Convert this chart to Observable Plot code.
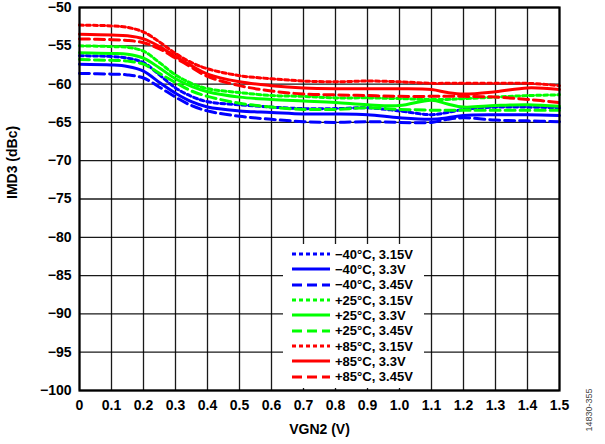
<!DOCTYPE html>
<html>
<head>
<meta charset="utf-8">
<script src="https://cdn.jsdelivr.net/npm/d3@7"></script>
<script src="https://cdn.jsdelivr.net/npm/@observablehq/plot@0.6"></script>
<style>
  html, body { margin: 0; padding: 0; background: #fff; }
  #wrap { position: relative; width: 605px; height: 444px; font-family: "Liberation Sans", Arial, sans-serif; }
  #legend { position: absolute; left: 283px; top: 244px; width: 141px; height: 144px; background: #fff; }
  .row { position: absolute; left: 0; height: 16px; display: flex; align-items: center; font-weight: bold; font-size: 13px; color: #000; white-space: nowrap; }
  .row svg { margin-left: 9px; margin-right: 5px; }
  #note { position: absolute; left: 589px; top: 410px; transform: translate(-50%, -50%) rotate(-90deg); font-size: 9px; color: #444; white-space: nowrap; }
</style>
</head>
<body>
<div id="wrap"></div>
<script>
// VGN2 (V)
const xs = [0, 0.1, 0.15, 0.2, 0.25, 0.3, 0.35, 0.4, 0.5, 0.6, 0.7, 0.8, 0.9, 1.0, 1.1, 1.15, 1.2, 1.3, 1.4, 1.5];

// IMD3 (dBc) per condition
const m40_315 = [-56.3, -56.4, -56.6, -57.2, -58.8, -60.5, -61.6, -62.3, -62.7, -63.0, -63.2, -63.2, -63.1, -63.5, -64.0, -63.7, -63.3, -63.0, -63.0, -63.1];
const m40_33  = [-57.4, -57.5, -57.7, -58.3, -59.8, -61.2, -62.3, -63.0, -63.5, -63.7, -63.9, -63.9, -64.0, -64.4, -64.6, -64.4, -64.1, -64.0, -64.0, -64.1];
const m40_345 = [-58.6, -58.7, -58.8, -59.2, -60.4, -61.7, -62.8, -63.5, -64.2, -64.6, -64.9, -65.0, -64.9, -65.0, -65.0, -64.6, -64.4, -64.7, -64.8, -64.9];
const p25_315 = [-55.0, -55.1, -55.2, -55.7, -57.2, -58.8, -59.9, -60.6, -61.1, -61.5, -61.6, -61.8, -61.8, -61.9, -62.0, -62.0, -61.9, -61.7, -61.5, -61.4];
const p25_33  = [-55.9, -56.0, -56.1, -56.6, -57.9, -59.3, -60.3, -61.0, -61.7, -62.0, -62.2, -62.4, -62.7, -62.8, -62.1, -62.6, -63.0, -62.8, -62.7, -62.9];
const p25_345 = [-56.8, -56.9, -57.0, -57.4, -58.6, -59.8, -60.9, -61.6, -62.5, -63.0, -63.3, -63.3, -63.1, -63.3, -63.4, -63.4, -63.4, -63.4, -63.4, -63.4];
const p85_315 = [-52.3, -52.4, -52.6, -53.2, -54.5, -56.0, -57.2, -58.0, -58.9, -59.3, -59.6, -59.7, -59.6, -59.7, -59.9, -59.9, -59.9, -59.9, -59.9, -60.2];
const p85_33  = [-53.5, -53.6, -53.7, -54.1, -55.1, -56.4, -57.6, -58.7, -59.7, -60.2, -60.5, -60.6, -60.6, -60.6, -60.7, -61.1, -61.3, -61.0, -60.5, -60.7];
const p85_345 = [-54.1, -54.2, -54.3, -54.6, -55.4, -56.6, -57.8, -59.0, -60.2, -60.9, -61.3, -61.4, -61.5, -61.6, -61.6, -61.6, -61.6, -61.7, -62.0, -62.4];

const seriesNames = ["\u221240\u00b0C, 3.15V", "\u221240\u00b0C, 3.3V", "\u221240\u00b0C, 3.45V",
                     "+25\u00b0C, 3.15V", "+25\u00b0C, 3.3V", "+25\u00b0C, 3.45V",
                     "+85\u00b0C, 3.15V", "+85\u00b0C, 3.3V", "+85\u00b0C, 3.45V"];
const seriesValues = [m40_315, m40_33, m40_345, p25_315, p25_33, p25_345, p85_315, p85_33, p85_345];
const seriesColors = ["#0000ff", "#0000ff", "#0000ff", "#00ff00", "#00ff00", "#00ff00", "#ff0000", "#ff0000", "#ff0000"];
const seriesDash = ["4,3", null, "10,5", "4,3", null, "10,5", "4,3", null, "10,5"];

const xTicks = [0, 0.1, 0.2, 0.3, 0.4, 0.5, 0.6, 0.7, 0.8, 0.9, 1.0, 1.1, 1.2, 1.3, 1.4, 1.5];
const yTicks = [-50, -55, -60, -65, -70, -75, -80, -85, -90, -95, -100];
const xLabel = "VGN2 (V)";
const yLabel = "IMD3 (dBc)";
const noteText = "14830-355";

const fmtX = d => d === 0 ? "0" : d.toFixed(1);
const fmtY = d => (d < 0 ? "\u2212" : "") + Math.abs(d);

const lineMarks = seriesValues.map((vals, i) => {
  const data = xs.map((x, j) => ({x, y: vals[j]}));
  return Plot.line(data, {
    x: "x", y: "y", stroke: seriesColors[i], strokeWidth: 3,
    strokeDasharray: seriesDash[i] || undefined, curve: "catmull-rom"
  });
});

const chart = Plot.plot({
  width: 605, height: 444,
  marginLeft: 79, marginRight: 46, marginTop: 7, marginBottom: 54,
  style: {fontFamily: "'Liberation Sans', Arial, sans-serif", fontSize: "14px", fontWeight: "bold", color: "#000", background: "#fff"},
  x: {domain: [0, 1.5]},
  y: {domain: [-100, -50]},
  marks: [
    Plot.gridX(xTicks, {stroke: "#000", strokeOpacity: 0.9, strokeWidth: 1.3}),
    Plot.gridY(yTicks, {stroke: "#000", strokeOpacity: 0.9, strokeWidth: 1.3}),
    Plot.axisX(xTicks, {tickSize: 0, tickPadding: 10, tickFormat: fmtX, label: null, fontSize: 14, fontWeight: "bold"}),
    Plot.axisY(yTicks, {tickSize: 0, tickPadding: 8, tickFormat: fmtY, label: null, fontSize: 14, fontWeight: "bold"}),
    ...lineMarks,
    Plot.frame({stroke: "#000", strokeWidth: 2.2}),
    Plot.text([xLabel], {text: d => d, frameAnchor: "bottom", dy: 43, fontSize: 14, fontWeight: "bold"}),
    Plot.text([yLabel], {text: d => d, frameAnchor: "left", dx: -67, rotate: -90, fontSize: 14, fontWeight: "bold"})
  ]
});

const wrap = document.getElementById("wrap");
wrap.appendChild(chart);

// legend overlay
const legend = document.createElement("div");
legend.id = "legend";
seriesNames.forEach((name, i) => {
  const row = document.createElement("div");
  row.className = "row";
  row.style.top = (2 + i * 15.35) + "px";
  const sw = d3.create("svg").attr("width", 38).attr("height", 10);
  sw.append("line").attr("x1", 0).attr("x2", 38).attr("y1", 5).attr("y2", 5)
    .attr("stroke", seriesColors[i]).attr("stroke-width", 3)
    .attr("stroke-dasharray", seriesDash[i]);
  row.appendChild(sw.node());
  const t = document.createElement("span");
  t.textContent = name;
  row.appendChild(t);
  legend.appendChild(row);
});
wrap.appendChild(legend);

const note = document.createElement("div");
note.id = "note";
note.textContent = noteText;
wrap.appendChild(note);
</script>
</body>
</html>
